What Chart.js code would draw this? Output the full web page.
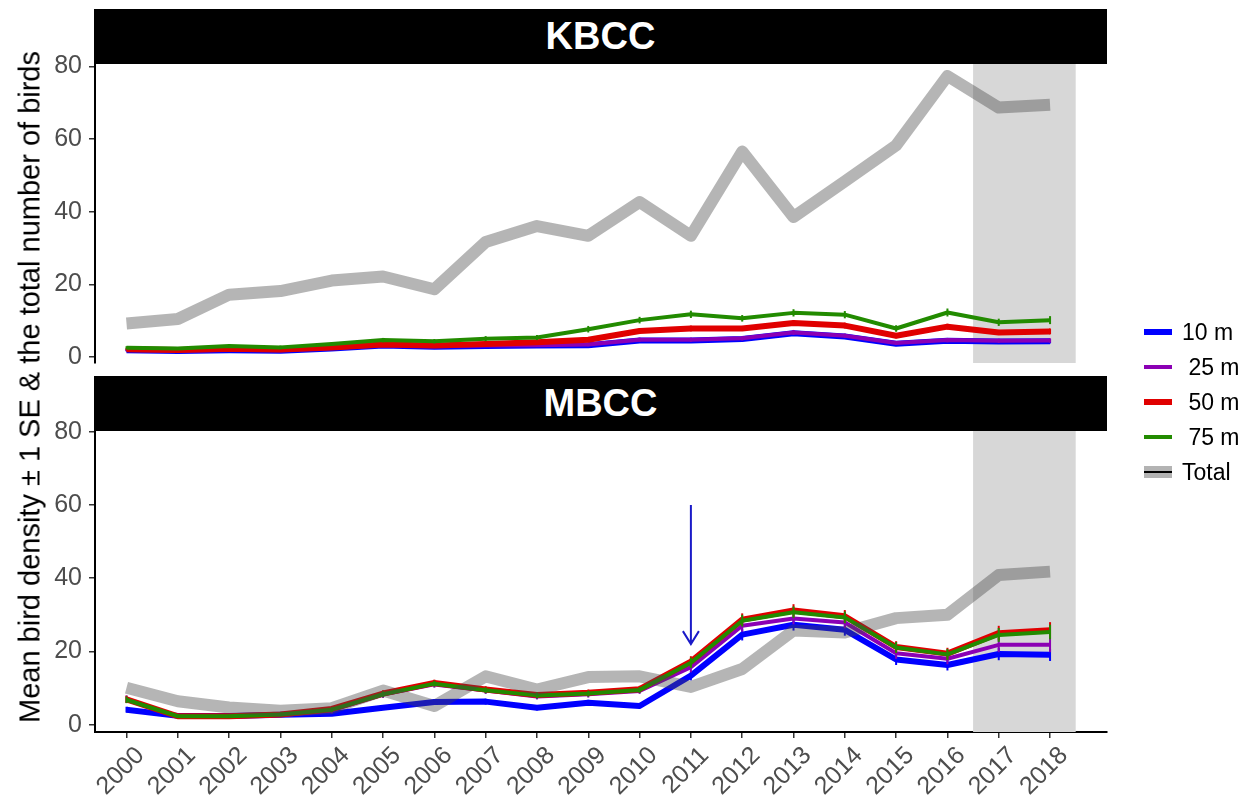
<!DOCTYPE html>
<html>
<head>
<meta charset="utf-8">
<script src="https://cdn.jsdelivr.net/npm/chart.js@4.4.1/dist/chart.umd.min.js"></script>
<style>
  body { margin: 0; background: #fff; width: 1249px; height: 806px; position: relative; overflow: hidden;
         font-family: "Liberation Sans", Arial, sans-serif; }
  canvas { position: absolute; left: 0; }
  .strip { position: absolute; left: 94px; width: 1013px; height: 55px; background: #000; color: #fff;
           font-weight: bold; font-size: 38px; display: flex; align-items: center; justify-content: center; z-index: 2; }
  .ytitle { position: absolute; left: 30px; top: 387px; transform: translate(-50%, -50%) rotate(-90deg);
            white-space: nowrap; font-size: 29px; color: #000; }
  .legend { position: absolute; left: 1144px; top: 314px; }
  .row { position: relative; height: 35px; }
  .key { position: absolute; left: 0; width: 28px; top: 50%; transform: translateY(-50%); }
  .lab { position: absolute; left: 38px; top: 50%; transform: translateY(-50%); font-size: 23px; color: #000; white-space: pre; }
</style>
</head>
<body>
<canvas id="kbcc" width="1249" height="385" style="top:0"></canvas>
<canvas id="mbcc" width="1249" height="436" style="top:370px"></canvas>
<div class="strip" style="top:9px">KBCC</div>
<div class="strip" style="top:376px">MBCC</div>
<div class="ytitle">Mean bird density ± 1 SE &amp; the total number of birds</div>
<div class="legend" id="legend"></div>
<script>
// Survey years
const years = [2000, 2001, 2002, 2003, 2004, 2005, 2006, 2007, 2008, 2009,
               2010, 2011, 2012, 2013, 2014, 2015, 2016, 2017, 2018];
const yTicks = [0, 20, 40, 60, 80];

// KBCC: mean density per buffer distance, standard errors, total birds
const kbcc10 = [1.9, 1.7, 1.9, 1.8, 2.4, 3.2, 2.9, 3.1, 3.2, 3.3, 4.6, 4.6, 5.0, 6.6, 5.7, 3.7, 4.5, 4.3, 4.4];
const kbcc25 = [2.0, 1.8, 2.0, 1.9, 2.5, 3.3, 3.0, 3.2, 3.3, 3.5, 4.8, 4.8, 5.2, 6.8, 5.9, 3.9, 4.7, 4.5, 4.6];
const kbcc50 = [2.2, 2.0, 2.3, 2.1, 2.7, 3.5, 3.2, 3.6, 4.1, 4.8, 7.2, 7.9, 7.9, 9.4, 8.7, 5.9, 8.4, 6.8, 7.1];
const kbcc75 = [2.6, 2.4, 3.1, 2.7, 3.6, 4.7, 4.4, 5.1, 5.4, 7.7, 10.2, 11.8, 10.7, 12.2, 11.7, 7.9, 12.3, 9.6, 10.2];
const kbccSe10 = [0.3, 0.3, 0.3, 0.3, 0.4, 0.5, 0.4, 0.4, 0.5, 0.5, 0.6, 0.6, 0.6, 0.7, 0.6, 0.5, 0.6, 0.6, 0.6];
const kbccSe25 = [0.3, 0.3, 0.3, 0.3, 0.4, 0.5, 0.4, 0.4, 0.5, 0.5, 0.6, 0.6, 0.6, 0.7, 0.6, 0.5, 0.6, 0.6, 0.6];
const kbccSe50 = [0.3, 0.3, 0.4, 0.4, 0.4, 0.5, 0.5, 0.5, 0.6, 0.6, 0.7, 0.8, 0.7, 0.8, 0.8, 0.7, 0.8, 0.7, 0.8];
const kbccSe75 = [0.4, 0.4, 0.5, 0.5, 0.5, 0.6, 0.6, 0.7, 0.7, 0.9, 0.9, 1.0, 0.9, 1.0, 1.0, 0.9, 1.1, 1.0, 1.1];
const kbccTotal = [9.3, 10.5, 17.2, 18.2, 21.1, 22.2, 18.7, 31.7, 36.1, 33.4, 42.7, 33.4, 56.6, 38.6, 48.4, 58.3, 77.4, 68.7, 69.5];

// MBCC: mean density per buffer distance, standard errors, total birds
const mbcc10 = [4.1, 2.4, 2.4, 2.7, 3.0, 4.6, 6.2, 6.3, 4.6, 6.0, 5.1, 13.4, 24.6, 27.3, 25.9, 17.8, 16.3, 19.3, 19.1];
const mbcc25 = [7.0, 2.2, 2.2, 2.6, 3.9, 8.2, 11.0, 9.3, 7.7, 8.3, 9.2, 15.7, 27.0, 29.0, 27.9, 19.5, 18.0, 21.8, 21.8];
const mbcc50 = [6.9, 2.3, 2.3, 2.8, 4.3, 8.5, 11.4, 9.6, 8.1, 8.7, 9.7, 17.2, 28.7, 31.2, 29.6, 21.2, 19.4, 25.0, 25.8];
const mbcc75 = [6.8, 2.3, 2.3, 2.8, 4.1, 8.3, 11.2, 9.4, 8.0, 8.5, 9.5, 16.9, 28.4, 30.7, 29.3, 21.1, 19.2, 24.5, 25.3];
const mbccSe10 = [0.8, 0.4, 0.4, 0.6, 0.5, 0.6, 0.8, 0.8, 0.7, 0.8, 0.7, 1.3, 1.6, 1.6, 1.6, 1.5, 1.5, 1.7, 1.7];
const mbccSe25 = [1.0, 0.4, 0.4, 0.5, 0.8, 0.9, 0.9, 0.9, 0.8, 0.9, 0.8, 1.4, 1.6, 1.6, 1.6, 1.5, 1.5, 2.0, 2.0];
const mbccSe50 = [1.0, 0.4, 0.4, 0.5, 0.7, 0.9, 0.9, 0.9, 0.8, 0.9, 0.9, 1.5, 1.7, 1.7, 1.7, 1.6, 1.6, 2.0, 2.2];
const mbccSe75 = [0.9, 0.4, 0.4, 0.5, 0.7, 0.8, 0.8, 0.8, 0.8, 0.8, 0.8, 1.4, 1.6, 1.6, 1.6, 1.5, 1.5, 1.9, 2.0];
const mbccTotal = [10.1, 6.4, 4.7, 3.8, 4.5, 9.3, 5.1, 13.2, 9.6, 13.0, 13.2, 10.3, 15.2, 25.7, 25.2, 29.1, 30.0, 40.9, 41.8];

// Highlighted period and the event marker in MBCC
const shadeYears = [2016.5, 2018.5];
const arrowYear = 2011;
const arrowFrom = 60;
const arrowTo = 22;

const series = [
  { label: '10 m', color: '#0000ff', width: 6 },
  { label: ' 25 m', color: '#8b00b4', width: 4 },
  { label: ' 50 m', color: '#e00000', width: 6 },
  { label: ' 75 m', color: '#228b00', width: 4 },
];
const totalStyle = { label: 'Total', color: 'rgba(70,70,70,0.4)', width: 12 };

const pts = vals => vals.map((v, i) => ({ x: years[i], y: v }));

function buildDatasets(means, ses, total) {
  const lines = series.map((s, k) => ({
    label: s.label, data: pts(means[k]), se: ses[k],
    borderColor: s.color, borderWidth: s.width
  }));
  // first dataset is drawn on top: total, then 75, 50, 25, 10 m
  return [{ label: totalStyle.label, data: pts(total), borderColor: totalStyle.color, borderWidth: totalStyle.width }]
    .concat(lines.reverse());
}

const decor = {
  id: 'decor',
  beforeDatasetsDraw(chart) {
    const { ctx, chartArea: a, scales: { x } } = chart;
    const x0 = x.getPixelForValue(shadeYears[0]);
    const x1 = x.getPixelForValue(shadeYears[1]);
    ctx.save();
    ctx.fillStyle = '#d7d7d7';
    ctx.fillRect(x0, a.top, x1 - x0, a.bottom - a.top);
    ctx.restore();
  },
  afterDatasetDraw(chart, args) {
    const ds = chart.data.datasets[args.index];
    if (!ds.se) return;
    const { ctx, scales: { x, y } } = chart;
    ctx.save();
    ctx.strokeStyle = ds.borderColor;
    ctx.lineWidth = 2;
    ds.data.forEach((p, i) => {
      const px = x.getPixelForValue(p.x);
      ctx.beginPath();
      ctx.moveTo(px, y.getPixelForValue(p.y - ds.se[i]));
      ctx.lineTo(px, y.getPixelForValue(p.y + ds.se[i]));
      ctx.stroke();
    });
    ctx.restore();
  }
};

const arrow = {
  id: 'arrow',
  afterDatasetsDraw(chart) {
    const { ctx, scales: { x, y } } = chart;
    const px = x.getPixelForValue(arrowYear);
    const y0 = y.getPixelForValue(arrowFrom);
    const y1 = y.getPixelForValue(arrowTo);
    ctx.save();
    ctx.strokeStyle = '#1a1ac8';
    ctx.lineWidth = 2;
    ctx.beginPath();
    ctx.moveTo(px, y0); ctx.lineTo(px, y1);
    ctx.moveTo(px - 8, y1 - 13); ctx.lineTo(px, y1); ctx.lineTo(px + 8, y1 - 13);
    ctx.stroke();
    ctx.restore();
  }
};

Chart.defaults.font.family = '"Liberation Sans", Arial, sans-serif';

function yScale(min, max) {
  return {
    type: 'linear', min, max,
    afterBuildTicks: s => { s.ticks = yTicks.map(v => ({ value: v })); },
    afterFit: s => { s.width = 95; },
    border: { display: true, color: '#000', width: 2 },
    grid: { display: true, drawOnChartArea: false, drawTicks: true, tickLength: 6, color: '#333', lineWidth: 1.5 },
    ticks: { color: '#4d4d4d', font: { size: 25 }, padding: 7 }
  };
}

function xScale(show) {
  return {
    type: 'linear', min: 1999.386, max: 2019.11, display: show,
    afterBuildTicks: s => { s.ticks = years.map(v => ({ value: v })); },
    afterFit: s => { if (show) s.height = 74; },
    border: { display: true, color: '#000', width: 2 },
    grid: { display: true, drawOnChartArea: false, drawTicks: true, tickLength: 6, color: '#333', lineWidth: 1.5 },
    ticks: { color: '#4d4d4d', font: { size: 25 }, padding: 3, minRotation: 45, maxRotation: 45,
             labelOffset: 14, autoSkip: false, callback: v => String(v) }
  };
}

function makeChart(id, datasets, yMin, yMax, padTop, padBottom, showX, extra) {
  return new Chart(document.getElementById(id), {
    type: 'line',
    data: { datasets },
    options: {
      responsive: false, animation: false, devicePixelRatio: 1,
      layout: { padding: { left: 0, right: 142, top: padTop, bottom: padBottom } },
      elements: { point: { radius: 0 }, line: { tension: 0, borderCapStyle: 'butt', borderJoinStyle: 'round', fill: false } },
      plugins: { legend: { display: false }, tooltip: { enabled: false } },
      scales: { x: xScale(showX), y: yScale(yMin, yMax) }
    },
    plugins: extra
  });
}

makeChart('kbcc',
  buildDatasets([kbcc10, kbcc25, kbcc50, kbcc75], [kbccSe10, kbccSe25, kbccSe50, kbccSe75], kbccTotal),
  -1.6, 80.7, 64, 20, false, [decor]);

makeChart('mbcc',
  buildDatasets([mbcc10, mbcc25, mbcc50, mbcc75], [mbccSe10, mbccSe25, mbccSe50, mbccSe75], mbccTotal),
  -2.0, 80.2, 61, 0, true, [decor, arrow]);

// Legend
const legend = document.getElementById('legend');
series.concat([totalStyle]).forEach(s => {
  const row = document.createElement('div');
  row.className = 'row';
  const key = document.createElement('div');
  key.className = 'key';
  if (s === totalStyle) {
    key.style.height = '12px';
    key.style.background = 'linear-gradient(to bottom, #b3b3b3 0 5px, #000 5px 7px, #b3b3b3 7px 12px)';
  } else {
    key.style.height = s.width + 'px';
    key.style.background = s.color;
  }
  const lab = document.createElement('div');
  lab.className = 'lab';
  lab.textContent = s.label;
  row.appendChild(key);
  row.appendChild(lab);
  legend.appendChild(row);
});
</script>
</body>
</html>
